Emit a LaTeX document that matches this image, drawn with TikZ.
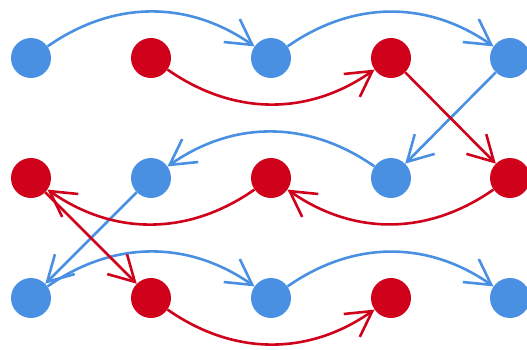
\documentclass[tikz,border=0pt]{standalone}
\usetikzlibrary{arrows.meta}
\definecolor{dotblue}{HTML}{4A90E2}
\definecolor{dotred}{HTML}{D0021B}

\begin{document}
\begin{tikzpicture}[x=1pt,y=-1pt,
    bluedot/.style={circle,fill=dotblue,minimum size=40pt,inner sep=0pt},
    reddot/.style={circle,fill=dotred,minimum size=40pt,inner sep=0pt},
    bluearrow/.style={draw=dotblue,line width=2.6pt,-{Straight Barb[length=25pt,width=28pt]}},
    redarrow/.style={draw=dotred,line width=2.6pt,-{Straight Barb[length=25pt,width=28pt]}}]
    \useasboundingbox (0,0) rectangle (527,349);
    % top row
    \node [bluedot] (a1) at (31,58) {};
    \node [reddot]  (a2) at (151,58) {};
    \node [bluedot] (a3) at (271,58) {};
    \node [reddot]  (a4) at (391,58) {};
    \node [bluedot] (a5) at (510,58) {};
    % middle row
    \node [reddot]  (b1) at (31,178) {};
    \node [bluedot] (b2) at (151,178) {};
    \node [reddot]  (b3) at (271,178) {};
    \node [bluedot] (b4) at (391,178) {};
    \node [reddot]  (b5) at (510,178) {};
    % bottom row
    \node [bluedot] (c1) at (31,298) {};
    \node [reddot]  (c2) at (151,298) {};
    \node [bluedot] (c3) at (271,298) {};
    \node [reddot]  (c4) at (391,298) {};
    \node [bluedot] (c5) at (510,298) {};
    % blue path
    \draw [bluearrow] (a1) to [bend left=35] (a3);
    \draw [bluearrow] (a3) to [bend left=35] (a5);
    \draw [bluearrow] (a5) -- (b4);
    \draw [bluearrow] (b4) to [bend right=35] (b2);
    \draw [bluearrow] (b2) -- (c1);
    \draw [bluearrow] (c1) to [bend left=35] (c3);
    \draw [bluearrow] (c3) to [bend left=35] (c5);
    % red path
    \draw [redarrow] (a2) to [bend right=35] (a4);
    \draw [redarrow] (a4) -- (b5);
    \draw [redarrow] (b5) to [bend left=35] (b3);
    \draw [redarrow] (b3) to [bend left=35] (b1);
    \draw [redarrow] (b1) -- (c2);
    \draw [redarrow] (c2) to [bend right=35] (c4);
  \end{tikzpicture}
\end{document}
